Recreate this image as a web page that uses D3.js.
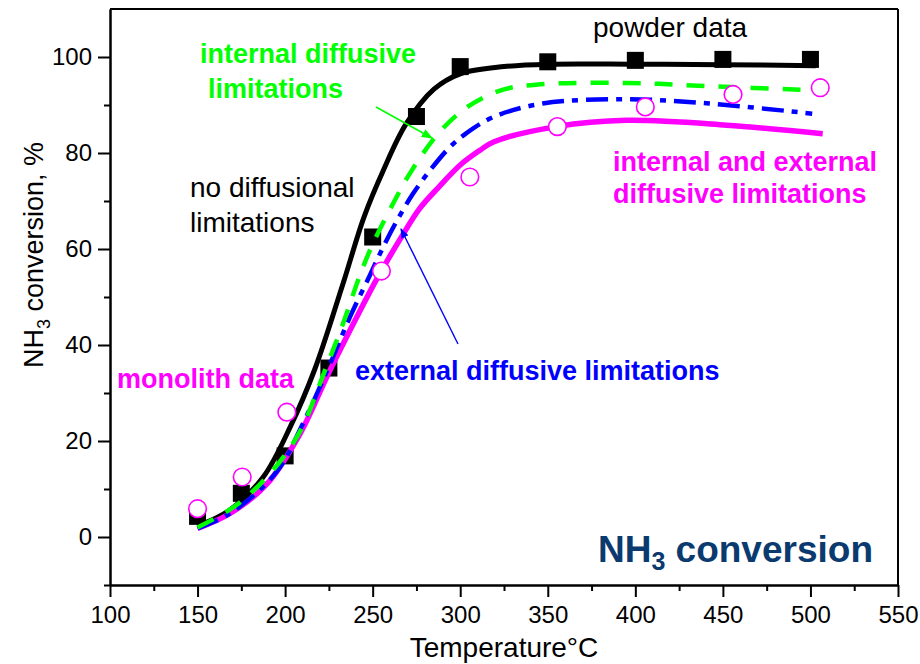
<!DOCTYPE html>
<html><head><meta charset="utf-8">
<script src="https://cdn.jsdelivr.net/npm/d3@7"></script>
<style>
body{margin:0;background:#fff;}
text{font-family:"Liberation Sans",Arial,sans-serif;}
</style></head>
<body><svg id="c" width="920" height="664"></svg>
<script>
// ---- data ----
const powderT = [150,175,200,225,250,275,300,350,400,450,500];
const powderV = [4.3,9.1,16.9,35.2,62.5,87.6,98,99,99.3,99.5,99.5];
const monoT = [150,175.5,201,255,305.5,355.5,405.7,455.8,505.6];
const monoV = [5.9,12.5,26,55.4,75,85.5,89.6,92.2,93.6];
const noDiffT = [150,168,187.5,203,217,233,245,256,269,285,300,325,350,400,450,503];
const noDiffV = [2.3,5.5,12.5,23,35,52.7,66.6,76.3,86,93.3,96.5,98,98.5,98.5,98.4,98.2];
const intT = [150,172,193,208.5,222,233,243,250,261,271,288,305,324.5,345.5,395,442.5,501];
const intV = [2,6.6,13.9,22,34,44.4,54.8,61,69,75.6,84.3,89.8,93.2,94.3,94.6,93.9,93.1];
const extT = [150,168.5,195,210,225.6,237,248.5,256,264,273,283,294,303,319,347,395,442.5,501];
const extV = [1.8,4.9,13.5,23.5,36,45.8,54.6,60.4,66,71.5,76.5,81.2,84,87.5,90.3,91.2,90.3,88.2];
const bothT = [150,168.5,189.5,208.5,224,237,252,265.6,277,288,300,311,319,355,395,452,507];
const bothV = [1.8,4.9,11,21.5,33.5,43,53.5,62,68.5,73,77.5,80.5,82.3,85.5,86.8,85.8,84];
const xMajor = [100,150,200,250,300,350,400,450,500,550];
const xMinor = [125,175,225,275,325,375,425,475,525];
const yMajor = [0,20,40,60,80,100];
const yMinor = [-10,10,30,50,70,90];

// ---- layout ----
const svg = d3.select("#c");
const L=110,R=898,T=9,B=585;
const x = d3.scaleLinear().domain([100,550]).range([L,R]);
const y = d3.scaleLinear().domain([-10,110]).range([B,T]);
const font = '"Liberation Sans",Arial,sans-serif';

// frame (top / right)
svg.append("line").attr("x1",L).attr("x2",R).attr("y1",T).attr("y2",T).attr("stroke","#000").attr("stroke-width",2);
svg.append("line").attr("x1",R).attr("x2",R).attr("y1",T).attr("y2",B).attr("stroke","#000").attr("stroke-width",2);

function styleAxis(g){
  g.selectAll("path.domain").attr("stroke","#000").attr("stroke-width",2);
  g.selectAll(".tick line").attr("stroke","#000").attr("stroke-width",2);
  g.selectAll("text").attr("font-family",font).attr("font-size",24).attr("fill","#000");
}
const gx = svg.append("g").attr("transform",`translate(0,${B})`)
  .call(d3.axisBottom(x).tickValues(xMajor).tickSize(12).tickSizeOuter(0).tickPadding(9).tickFormat(d3.format("d")));
styleAxis(gx);
const gx2 = svg.append("g").attr("transform",`translate(0,${B})`)
  .call(d3.axisBottom(x).tickValues(xMinor).tickSize(6).tickSizeOuter(0).tickFormat(""));
styleAxis(gx2);
const gy = svg.append("g").attr("transform",`translate(${L},0)`)
  .call(d3.axisLeft(y).tickValues(yMajor).tickSize(12).tickSizeOuter(0).tickPadding(6).tickFormat(d3.format("d")));
styleAxis(gy);
const gy2 = svg.append("g").attr("transform",`translate(${L},0)`)
  .call(d3.axisLeft(y).tickValues(yMinor).tickSize(6).tickSizeOuter(0).tickFormat(""));
styleAxis(gy2);

// axis titles
svg.append("text").attr("x",(L+R)/2).attr("y",657).attr("text-anchor","middle")
  .attr("font-size",28).text("Temperature°C");
const yt = svg.append("text").attr("transform","translate(43,255) rotate(-90)").attr("text-anchor","middle").attr("font-size",27);
yt.append("tspan").text("NH");
yt.append("tspan").attr("font-size",18).attr("dy",7).text("3");
yt.append("tspan").attr("dy",-7).text(" conversion, %");

// squares (powder data)
const sq = 17;
svg.append("g").selectAll("rect").data(powderT.map((t,i)=>[t,powderV[i]])).join("rect")
  .attr("x",d=>x(d[0])-sq/2).attr("y",d=>y(d[1])-sq/2).attr("width",sq).attr("height",sq).attr("fill","#000");

// curves
const line = d3.line().x(d=>x(d[0])).y(d=>y(d[1])).curve(d3.curveCatmullRom.alpha(0.5));
function curve(ts,vs,color,w,dash){
  const p = svg.append("path").datum(ts.map((t,i)=>[t,vs[i]])).attr("d",line)
    .attr("fill","none").attr("stroke",color).attr("stroke-width",w);
  if(dash) p.attr("stroke-dasharray",dash);
}
curve(noDiffT,noDiffV,"#000",5);
curve(bothT,bothV,"#ff00ff",5.5);
curve(extT,extV,"#0000ff",4.5,"22,8,6,8");
curve(intT,intV,"#00ff00",4.5,"18,14");

// circles (monolith data)
svg.append("g").selectAll("circle").data(monoT.map((t,i)=>[t,monoV[i]])).join("circle")
  .attr("cx",d=>x(d[0])).attr("cy",d=>y(d[1])).attr("r",8.8)
  .attr("fill","#fff").attr("stroke","#ff00ff").attr("stroke-width",1.6);

// arrows
const defs = svg.append("defs");
function marker(id,color){
  defs.append("marker").attr("id",id).attr("viewBox","0 0 10 10").attr("refX",9).attr("refY",5)
    .attr("markerWidth",7).attr("markerHeight",7).attr("orient","auto")
    .append("path").attr("d","M0,1 L10,5 L0,9 Z").attr("fill",color);
}
marker("ag","#00ff00"); marker("ab","#0000ff");
svg.append("line").attr("x1",376).attr("y1",107).attr("x2",432).attr("y2",138)
  .attr("stroke","#00ff00").attr("stroke-width",1.6).attr("marker-end","url(#ag)");
svg.append("line").attr("x1",458).attr("y1",344).attr("x2",401).attr("y2",229)
  .attr("stroke","#0000ff").attr("stroke-width",1.4).attr("marker-end","url(#ab)");

// annotations
function label(tx,ty,str,color,size,bold){
  svg.append("text").attr("x",tx).attr("y",ty).attr("fill",color).attr("font-size",size)
    .attr("font-weight",bold?"bold":"normal").text(str);
}
label(593,37,"powder data","#000",28,false);
label(200,63,"internal diffusive","#00ff00",27,true);
label(208,98,"limitations","#00ff00",27,true);
label(190,197,"no diffusional","#000",28,false);
label(190,232,"limitations","#000",28,false);
label(613,171,"internal and external","#ff00ff",27,true);
label(613,203,"diffusive limitations","#ff00ff",27,true);
label(117,388,"monolith data","#ff00ff",27,true);
label(355,380,"external diffusive limitations","#0000ff",27,true);

const nt = svg.append("text").attr("x",873).attr("y",562).attr("text-anchor","end")
  .attr("font-size",37).attr("font-weight","bold").attr("fill","#0a3a6e");
nt.append("tspan").text("NH");
nt.append("tspan").attr("font-size",25).attr("dy",8).text("3");
nt.append("tspan").attr("dy",-8).text(" conversion");
</script></body></html>
